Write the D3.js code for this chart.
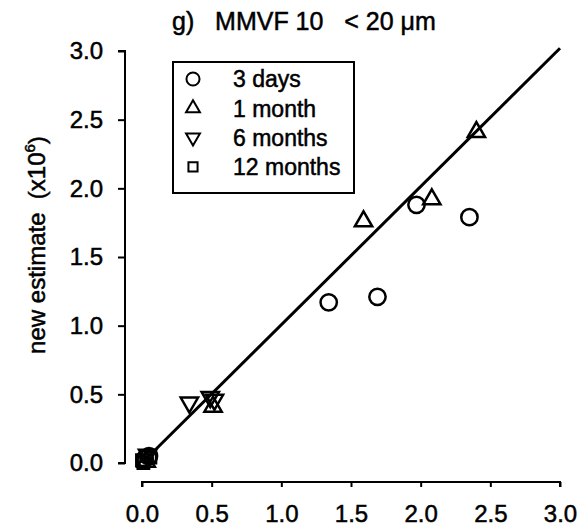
<!DOCTYPE html>
<html>
<head>
<meta charset="utf-8">
<script src="https://cdn.jsdelivr.net/npm/d3@7"></script>
<style>
  body { margin: 0; background: #fff; }
  text { font-family: "Liberation Sans", Arial, sans-serif; fill: #000; stroke: #000; stroke-width: 0.5px; }
</style>
</head>
<body>
<script>
const width = 582;
const height = 530;

// data: [old estimate, new estimate] (x10^6)
const days3 = [[1.34, 1.17], [1.69, 1.21], [1.97, 1.88], [2.35, 1.79], [0.02, 0.03], [0.05, 0.05]];
const month1 = [[1.59, 1.76], [2.08, 1.92], [2.40, 2.41], [0.51, 0.41], [0.03, 0.01]];
const months6 = [[0.34, 0.44], [0.49, 0.48], [0.52, 0.46], [0.04, 0.06]];
const months12 = [[0.0, 0.02], [0.03, 0.05], [0.01, 0.0], [0.06, 0.04]];
const fitLine = [[0.0, 0.0], [3.0, 3.02]];
const tickValues = [0, 0.5, 1.0, 1.5, 2.0, 2.5, 3.0];
const seriesNames = ['3 days', '1 month', '6 months', '12 months'];

const svg = d3.select('body').append('svg').attr('width', width).attr('height', height);

const x = d3.scaleLinear().domain([0, 3]).range([142, 560]);
const y = d3.scaleLinear().domain([0, 3]).range([463, 51]);

// axes (detached from the plot area, like the original)
const xAxis = svg.append('g')
    .attr('transform', 'translate(0,482)')
    .call(d3.axisBottom(x).tickValues(tickValues).tickFormat(d3.format('.1f')).tickSize(5).tickPadding(18));
const yAxis = svg.append('g')
    .attr('transform', 'translate(125,0)')
    .call(d3.axisLeft(y).tickValues(tickValues).tickFormat(d3.format('.1f')).tickSize(7).tickPadding(15));

[xAxis, yAxis].forEach(a => {
    a.select('.domain').attr('stroke', '#000').attr('stroke-width', 2);
    a.selectAll('.tick line').attr('stroke', '#000').attr('stroke-width', 2);
    a.selectAll('.tick text').attr('font-size', 24).attr('font-family', '"Liberation Sans", Arial, sans-serif');
});
xAxis.select('.domain').attr('d', 'M142,5V0H560V5');
yAxis.select('.domain').attr('d', 'M-7,51H0V463H-7');

// fit line
svg.append('path')
    .datum(fitLine)
    .attr('d', d3.line().x(d => x(d[0])).y(d => y(d[1])))
    .attr('fill', 'none')
    .attr('stroke', '#000')
    .attr('stroke-width', 3);

const symbols = [
    d3.symbol().type(d3.symbolCircle).size(210),
    d3.symbol().type(d3.symbolTriangle).size(130),
    d3.symbol().type(d3.symbolTriangle).size(130),
    d3.symbol().type(d3.symbolSquare).size(130)
];
const rotations = [0, 0, 180, 0];
const allSeries = [days3, month1, months6, months12];

allSeries.forEach((data, i) => {
    svg.append('g').selectAll('path')
        .data(data)
        .enter()
        .append('path')
        .attr('d', symbols[i]())
        .attr('transform', d => `translate(${x(d[0])},${y(d[1])}) rotate(${rotations[i]})`)
        .attr('fill', 'none')
        .attr('stroke', '#000')
        .attr('stroke-width', 2.5);
});

// legend
const legend = svg.append('g');
legend.append('rect')
    .attr('x', 173).attr('y', 62).attr('width', 181).attr('height', 131)
    .attr('fill', '#fff').attr('stroke', '#000').attr('stroke-width', 2);
seriesNames.forEach((name, i) => {
    const cy = 79 + i * 29.3;
    legend.append('path')
        .attr('d', symbols[i]())
        .attr('transform', `translate(193,${cy}) rotate(${rotations[i]}) scale(0.8)`)
        .attr('fill', 'none')
        .attr('stroke', '#000')
        .attr('stroke-width', 2.5);
    legend.append('text')
        .attr('x', 233).attr('y', cy)
        .attr('dy', '0.36em')
        .attr('font-size', 23)
        .text(name);
});

// title
svg.append('text')
    .attr('x', 172).attr('y', 30)
    .attr('font-size', 25)
    .attr('xml:space', 'preserve')
    .text('g)   MMVF 10   < 20 \u03bcm');

// y label
const ylab = svg.append('text')
    .attr('transform', 'translate(45,245) rotate(-90)')
    .attr('text-anchor', 'middle')
    .attr('font-size', 24)
    .attr('xml:space', 'preserve');
ylab.append('tspan').text('new estimate  (x10');
ylab.append('tspan').attr('font-size', 15).attr('dy', -10).text('6');
ylab.append('tspan').attr('dy', 10).text(')');
</script>
</body>
</html>
